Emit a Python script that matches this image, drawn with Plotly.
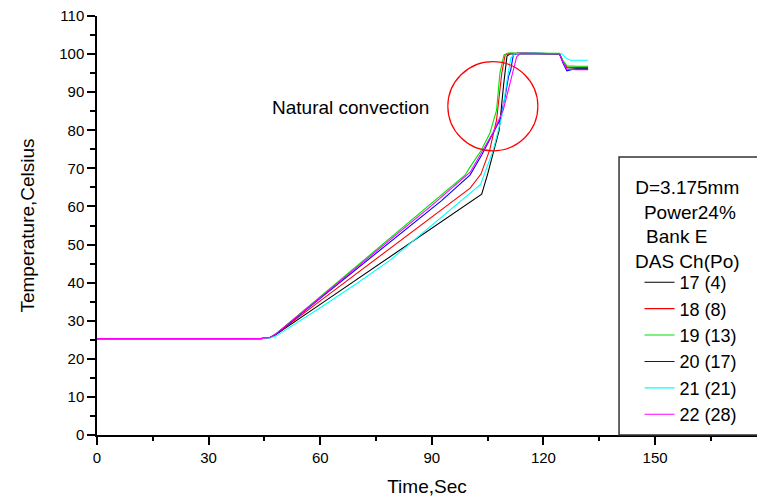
import plotly.graph_objects as go

# ---- data (time in s, temperature in Celsius) ----
names = ["17 (4)", "18 (8)", "19 (13)", "20 (17)", "21 (21)", "22 (28)"]
colors = ["#000000", "#ff0000", "#00e000", "#0000ff", "#00ffff", "#ff00ff"]

t17 = [0, 20, 44, 46.5, 48, 60, 75, 90, 100, 103.4, 105, 106.5, 108.1, 109.3, 110.2, 111, 118, 124.3, 125.3, 126.3, 129, 132]
T17 = [25.2, 25.2, 25.3, 25.6, 26.3, 34.3, 44.3, 54.3, 61.0, 63.2, 68.5, 74.0, 80.0, 92.0, 99.5, 100.1, 100.1, 100.0, 98.0, 96.4, 96.3, 96.3]

t18 = [0, 20, 44, 46.5, 48, 60, 75, 90, 96.2, 100.3, 103.2, 105.6, 107.4, 108.8, 109.7, 111, 118, 124.3, 125.3, 126.3, 129, 132]
T18 = [25.3, 25.3, 25.3, 25.6, 26.4, 35.2, 46.2, 57.2, 61.7, 64.8, 68.5, 75.0, 82.7, 95.0, 99.8, 100.2, 100.2, 100.1, 98.0, 96.6, 96.5, 96.5]

t19 = [0, 20, 44, 46.5, 48, 60, 75, 90, 98.9, 100.3, 103.2, 105.6, 107.4, 108.3, 109.4, 110.5, 118, 124.3, 125.3, 126.3, 129, 132]
T19 = [25.3, 25.3, 25.3, 25.6, 26.5, 36.3, 48.6, 60.9, 68.2, 70.4, 74.6, 79.2, 85.3, 95.0, 99.8, 100.3, 100.3, 100.2, 98.2, 96.9, 96.8, 96.8]

t20 = [0, 20, 44, 46.5, 48, 60, 75, 90, 92.7, 100.3, 103.4, 108.3, 109.7, 110.6, 111.2, 111.9, 113, 118, 124.3, 125.3, 126.3, 128, 132]
T20 = [25.2, 25.2, 25.3, 25.6, 26.4, 35.9, 47.7, 59.5, 61.6, 68.3, 73.5, 82.7, 88.8, 94.1, 95.8, 99.8, 100.2, 100.2, 100.1, 97.5, 95.6, 96.0, 96.0]

t21 = [0, 20, 44, 46.5, 48, 60, 70, 78.8, 88.2, 98.5, 100.3, 103.1, 106.5, 108.8, 110.1, 111.2, 112.2, 118, 124.9, 126, 127.2, 132]
T21 = [25.2, 25.2, 25.3, 25.5, 25.9, 33.4, 39.9, 45.9, 53.6, 61.9, 63.3, 65.8, 74.8, 83.6, 92.3, 98.9, 100.1, 100.2, 100.1, 99.0, 98.4, 98.4]

t22 = [0, 20, 44, 46.5, 48, 60, 75, 90, 100.3, 103.4, 106.5, 109.2, 111.2, 112.8, 113.8, 118, 124.3, 125.3, 126.3, 129, 132]
T22 = [25.3, 25.3, 25.3, 25.6, 26.5, 36.1, 48.2, 60.3, 69.0, 74.3, 79.5, 85.3, 93.2, 99.3, 100.2, 100.2, 100.1, 97.8, 96.0, 95.9, 95.9]

times = [t17, t18, t19, t20, t21, t22]
temps = [T17, T18, T19, T20, T21, T22]

x_ticks = [0, 30, 60, 90, 120, 150]
y_ticks = list(range(0, 111, 10))

FONT = "Liberation Sans, Arial, sans-serif"

fig = go.Figure()
for n, c, tx, ty in zip(names, colors, times, temps):
    fig.add_trace(go.Scatter(x=tx, y=ty, mode="lines", name=n,
                             line=dict(color=c, width=1.1)))

fig.update_layout(
    width=757, height=502,
    margin=dict(l=97, r=0, t=16, b=67),
    paper_bgcolor="white", plot_bgcolor="white",
    font=dict(family=FONT, size=15, color="black"),
    showlegend=True,
    legend=dict(x=0.822, y=0.408, xanchor="left", yanchor="top",
                bgcolor="rgba(0,0,0,0)", borderwidth=0,
                font=dict(family=FONT, size=18, color="black"),
                tracegroupgap=0),
    xaxis=dict(range=[0, 177.4], tickvals=x_ticks, ticks="outside", ticklen=8,
               tickwidth=1.5, tickcolor="black", showline=True, linewidth=1.5,
               linecolor="black", showgrid=False, zeroline=False,
               minor=dict(dtick=15, tick0=0, ticks="outside", ticklen=4, tickwidth=1.5, tickcolor="black"),
               title=dict(text="Time,Sec", font=dict(size=19), standoff=15),
               tickfont=dict(size=15)),
    yaxis=dict(range=[0, 110], tickvals=y_ticks, ticks="outside", ticklen=8,
               tickwidth=1.5, tickcolor="black", showline=True, linewidth=1.5,
               linecolor="black", showgrid=False, zeroline=False,
               minor=dict(dtick=5, tick0=0, ticks="outside", ticklen=5, tickwidth=1.5, tickcolor="black"),
               title=dict(text="Temperature,Celsius", font=dict(size=19), standoff=20),
               tickfont=dict(size=15)),
    shapes=[
        dict(type="circle", xref="x", yref="y", x0=94.3, x1=118.5, y0=74.6, y1=98.0,
             line=dict(color="#ff0000", width=1.2)),
        dict(type="rect", xref="paper", yref="paper", x0=0.791, x1=1.03, y0=0, y1=0.6635,
             line=dict(color="#333333", width=1.5)),
    ],
    annotations=[
        dict(text="Natural convection", x=46.5, y=86.1, xref="x", yref="y",
             xanchor="left", yanchor="middle", showarrow=False,
             font=dict(size=19, family=FONT, color="black")),
        dict(text="D=3.175mm<br>\u00a0Power24%<br>Bank E\u00a0\u00a0\u00a0\u00a0<br>DAS Ch(Po)", x=0.894, y=0.502,
             xref="paper", yref="paper", xanchor="center", yanchor="middle", align="center",
             showarrow=False, font=dict(size=19, family=FONT, color="black")),
    ],
)

fig.write_html("out.html")
